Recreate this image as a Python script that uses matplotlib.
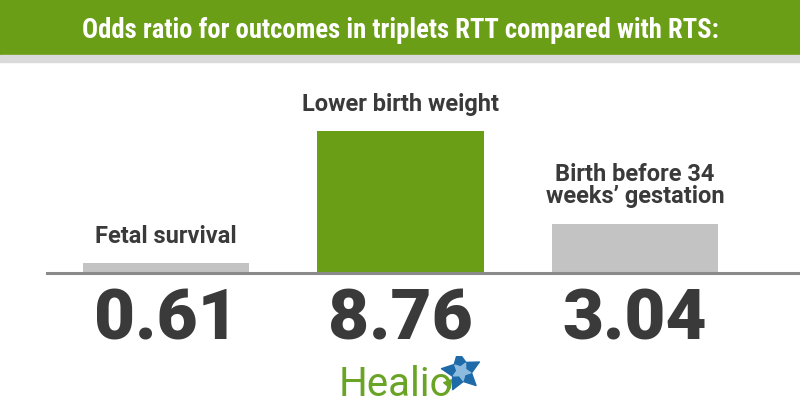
import matplotlib
matplotlib.use("Agg")
import matplotlib.pyplot as plt
from matplotlib import font_manager as fm
from matplotlib.patches import Rectangle

categories = ["Fetal survival", "Lower birth weight", "Birth before 34\nweeks\u2019 gestation"]
values = [0.61, 8.76, 3.04]
value_labels = ["0.61", "8.76", "3.04"]
title = "Odds ratio for outcomes in triplets RTT compared with RTS:"

GREEN = "#6a9e17"
GRAY_BAR = "#c3c3c3"
DARK = "#3a3a3a"

names = {f.name for f in fm.fontManager.ttflist}
main = "Roboto" if "Roboto" in names else "DejaVu Sans"
cond = None
for cand in ["Roboto Condensed", "Liberation Sans Narrow", "Open Sans Condensed"]:
    if cand in names:
        cond = cand
        break

fig = plt.figure(figsize=(8, 4.2), dpi=100)
W, H = 800, 420

# header band
fig.patches.append(Rectangle((0, 1 - 55 / H), 1, 55 / H, transform=fig.transFigure,
                             color=GREEN, zorder=0))
fig.patches.append(Rectangle((0, 1 - 62 / H), 1, 7 / H, transform=fig.transFigure,
                             color="#dadada", zorder=0))
if cond:
    fig.text(0.5, 1 - 31 / H, title, ha="center", va="center", color="white",
             fontsize=19.2, fontweight="bold", family=cond)
else:
    fig.text(0.5, 1 - 30 / H, title, ha="center", va="center", color="white",
             fontsize=17.3, fontweight="bold", family=main)

# bar axes
left = 47 / W
bottom = (H - 273) / H
height = 162 / H
ax = fig.add_axes([left, bottom, 1 - left, height])
x = list(range(len(categories)))
colors = [GRAY_BAR, GREEN, GRAY_BAR]
ax.bar(x, values, width=0.71, color=colors, zorder=2)
ax.set_xlim(-0.507, 2.704)
ax.set_ylim(0, 10)
for s in ["top", "right", "left"]:
    ax.spines[s].set_visible(False)
ax.spines["bottom"].set_color("#8a8a8a")
ax.spines["bottom"].set_linewidth(2.2)
ax.set_xticks([])
ax.set_yticks([])
ax.patch.set_alpha(0)

for xi, v, cat, vl in zip(x, values, categories, value_labels):
    ax.annotate(cat, (xi, v), xytext=(0, 11), textcoords="offset points",
                ha="center", va="bottom", fontsize=17, fontweight="bold",
                color=DARK, family=main, linespacing=0.95)
    ax.annotate(vl, (xi, 0), xytext=(0, -10), textcoords="offset points",
                ha="center", va="top", fontsize=51, fontweight="heavy",
                color=DARK, family=main)

# logo
fig.text(339 / W, 1 - 384 / H, "Healio", ha="left", va="center",
         fontsize=29, color="#6aa427", family=main)
lax = fig.add_axes([438 / W, 1 - 392 / H, 45 / W, 36 / H])
lax.set_xlim(0, 1)
lax.set_ylim(0, 1)
lax.axis("off")
lax.scatter([0.22], [0.25], marker=(3, 0, 200), s=50, color="#6aa427", zorder=1)
lax.scatter([0.5], [0.58], marker=(5, 1, 10), s=850, color="#1f6aa8", zorder=2)
lax.scatter([0.5], [0.58], marker=(5, 1, 46), s=180, color="#8dbbe0", zorder=3)

fig.savefig("out.png", dpi=100)
